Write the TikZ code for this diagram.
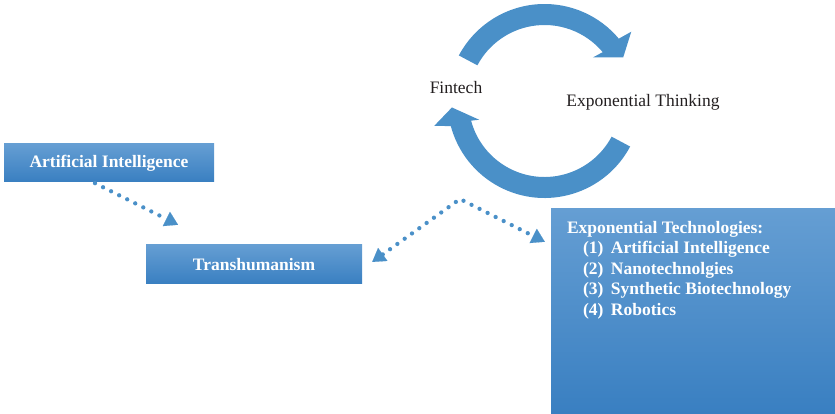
\documentclass[tikz,border=0pt]{standalone}
\usepackage{fontspec}
\setmainfont{Liberation Serif}
\usetikzlibrary{arrows.meta,calc}
\definecolor{arrowblue}{RGB}{74,144,200}
\definecolor{boxtop}{RGB}{101,158,211}
\definecolor{boxbot}{RGB}{57,127,193}
\definecolor{txt}{RGB}{35,31,32}
\tikzset{
  bluebox/.style={rectangle, inner sep=0pt, top color=boxtop, bottom color=boxbot, draw=none,
    text=white, font=\fontsize{17.5}{20.5}\selectfont\bfseries},
  plainlabel/.style={inner sep=0pt, text=txt, font=\fontsize{17.5}{20.5}\selectfont},
  dotconn/.style={draw=arrowblue, line width=4.3pt, line cap=round, dash pattern=on 0pt off 9pt},
  tiphead/.style={-{Triangle[length=13pt,width=16pt,line width=0.1pt]}},
  bothheads/.style={{Triangle[length=13pt,width=16pt,line width=0.1pt]}-{Triangle[length=13pt,width=16pt,line width=0.1pt]}},
}
\begin{document}
\begin{tikzpicture}[x=1pt,y=1pt]
\useasboundingbox (0,0) rectangle (835,414);
% boxes
\node[bluebox, minimum width=210pt, minimum height=38pt] (ai) at (109,251) {Artificial Intelligence};
\node[bluebox, minimum width=216pt, minimum height=39pt] (trans) at (254,149.5) {Transhumanism};
\node[bluebox, minimum width=284pt, minimum height=205pt] (exptech) at (693,102.5) {};
\node[anchor=north west, inner sep=0pt, align=left, text=white, font=\fontsize{17.5}{20.5}\selectfont\bfseries]
  (explist) at ([xshift=16pt,yshift=-12pt]exptech.north west)
  {Exponential Technologies:\\
   \hspace*{16pt}\makebox[28pt][l]{(1)}Artificial Intelligence\\
   \hspace*{16pt}\makebox[28pt][l]{(2)}Nanotechnolgies\\
   \hspace*{16pt}\makebox[28pt][l]{(3)}Synthetic Biotechnology\\
   \hspace*{16pt}\makebox[28pt][l]{(4)}Robotics};
% labels
\node[plainlabel] (fintech) at (456,326) {Fintech};
\node[plainlabel] (expthink) at (643,312) {Exponential Thinking};
% circular arrows
\coordinate (C) at (544.5,313);
\fill[arrowblue] ($(C)+(152:97)$) arc[start angle=152, end angle=40, radius=97]
  -- ($(C)+(38.6:111)$) -- ($(C)+(29:90)$) -- ($(C)+(42:65)$) -- ($(C)+(40:76)$)
  arc[start angle=40, end angle=152, radius=76] -- cycle;
\fill[arrowblue] ($(C)+(332:97)$) arc[start angle=332, end angle=195, radius=97]
  -- ($(C)+(192.7:113)$) -- ($(C)+(184:92.8)$) -- ($(C)+(196:68)$) -- ($(C)+(195:76)$)
  arc[start angle=195, end angle=332, radius=76] -- cycle;
% dotted connectors
\coordinate (peak) at (460,215);
\draw[dotconn, tiphead, arrowblue] ([xshift=-14pt,yshift=-1pt]ai.south) -- ([xshift=-76pt,yshift=20pt]trans.north);
\draw[dotconn, bothheads, arrowblue] ([xshift=10pt,yshift=2.5pt]trans.east) -- (peak) -- ([xshift=-6pt,yshift=-33pt]exptech.north west);
\end{tikzpicture}
\end{document}
